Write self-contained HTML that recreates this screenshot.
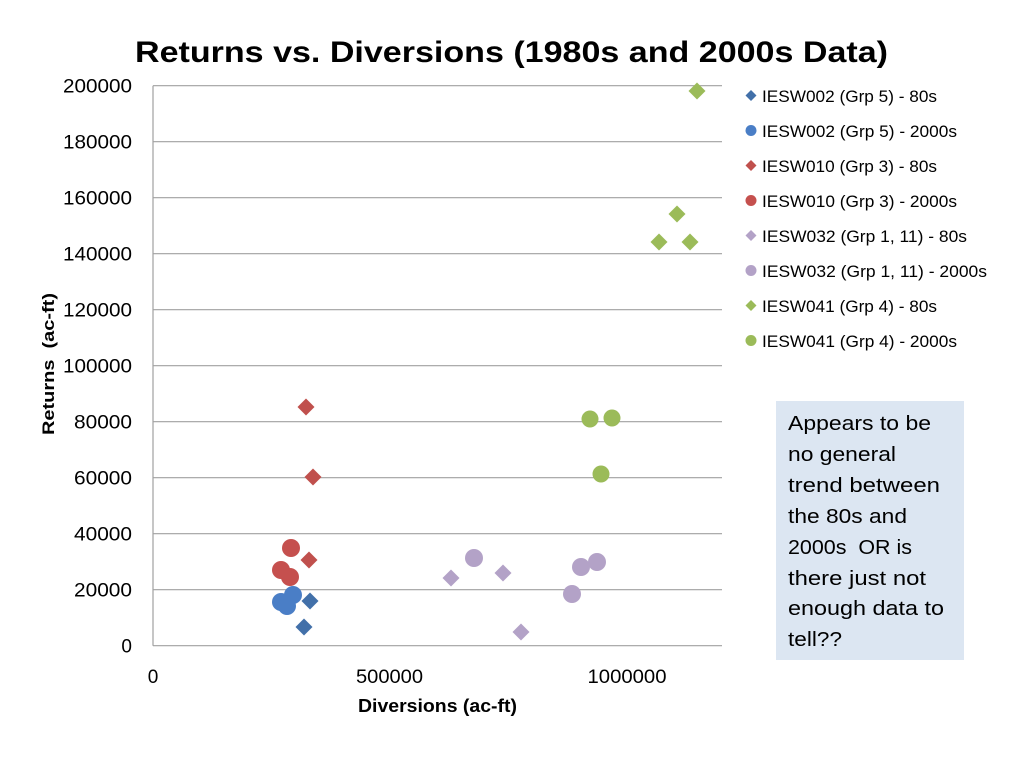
<!DOCTYPE html>
<html>
<head>
<meta charset="utf-8">
<style>
html,body{margin:0;padding:0;background:#fff;}
svg{display:block;}
text{font-family:"Liberation Sans",sans-serif;fill:#000;}
</style>
</head>
<body>
<svg width="1024" height="768" viewBox="0 0 1024 768" xmlns="http://www.w3.org/2000/svg">
<rect width="1024" height="768" fill="#fff"/>
<!-- title -->
<text x="135" y="62" font-size="30" font-weight="bold" textLength="753" lengthAdjust="spacingAndGlyphs">Returns vs. Diversions (1980s and 2000s Data)</text>

<!-- gridlines -->
<g stroke="#a0a0a0" stroke-width="1.2">
<line x1="153" y1="85.7" x2="722" y2="85.7"/>
<line x1="153" y1="141.7" x2="722" y2="141.7"/>
<line x1="153" y1="197.7" x2="722" y2="197.7"/>
<line x1="153" y1="253.7" x2="722" y2="253.7"/>
<line x1="153" y1="309.7" x2="722" y2="309.7"/>
<line x1="153" y1="365.7" x2="722" y2="365.7"/>
<line x1="153" y1="421.7" x2="722" y2="421.7"/>
<line x1="153" y1="477.7" x2="722" y2="477.7"/>
<line x1="153" y1="533.7" x2="722" y2="533.7"/>
<line x1="153" y1="589.7" x2="722" y2="589.7"/>
<line x1="153" y1="645.7" x2="722" y2="645.7"/>
<line x1="153" y1="85.7" x2="153" y2="645.7"/>
</g>

<!-- y tick labels -->
<g font-size="19" text-anchor="end">
<text x="132" y="92.5" textLength="69" lengthAdjust="spacingAndGlyphs">200000</text>
<text x="132" y="148.5" textLength="69" lengthAdjust="spacingAndGlyphs">180000</text>
<text x="132" y="204.5" textLength="69" lengthAdjust="spacingAndGlyphs">160000</text>
<text x="132" y="260.5" textLength="69" lengthAdjust="spacingAndGlyphs">140000</text>
<text x="132" y="316.5" textLength="69" lengthAdjust="spacingAndGlyphs">120000</text>
<text x="132" y="372.5" textLength="69" lengthAdjust="spacingAndGlyphs">100000</text>
<text x="132" y="428.5" textLength="58" lengthAdjust="spacingAndGlyphs">80000</text>
<text x="132" y="484.5" textLength="58" lengthAdjust="spacingAndGlyphs">60000</text>
<text x="132" y="540.5" textLength="58" lengthAdjust="spacingAndGlyphs">40000</text>
<text x="132" y="596.5" textLength="58" lengthAdjust="spacingAndGlyphs">20000</text>
<text x="132" y="652.5">0</text>
</g>

<!-- x tick labels -->
<g font-size="19" text-anchor="middle">
<text x="153" y="683">0</text>
<text x="389.5" y="683" textLength="67" lengthAdjust="spacingAndGlyphs">500000</text>
<text x="627" y="683" textLength="79" lengthAdjust="spacingAndGlyphs">1000000</text>
</g>

<!-- axis titles -->
<text x="358" y="712" font-size="18" font-weight="bold" textLength="159" lengthAdjust="spacingAndGlyphs">Diversions (ac-ft)</text>
<text transform="translate(54,435) rotate(-90)" x="0" y="0" font-size="17" font-weight="bold" textLength="142" lengthAdjust="spacingAndGlyphs" xml:space="preserve">Returns  (ac-ft)</text>

<!-- data -->
<defs>
<path id="dm" d="M0,-8.5 L8.5,0 L0,8.5 L-8.5,0 Z"/>
<path id="dl" d="M0,-5.5 L5.5,0 L0,5.5 L-5.5,0 Z"/>
</defs>
<!-- IESW002 80s -->
<g fill="#4270a9">
<use href="#dm" x="304" y="627"/>
<use href="#dm" x="310" y="601"/>
</g>
<!-- IESW002 2000s -->
<g fill="#4a7ec6">
<circle cx="281" cy="602" r="9"/>
<circle cx="287" cy="606" r="9"/>
<circle cx="293" cy="595" r="9"/>
</g>
<!-- IESW010 80s -->
<g fill="#c0504d">
<use href="#dm" x="306" y="407"/>
<use href="#dm" x="313" y="477"/>
<use href="#dm" x="309" y="560"/>
</g>
<!-- IESW010 2000s -->
<g fill="#c5504e">
<circle cx="291" cy="548" r="9"/>
<circle cx="281" cy="570" r="9"/>
<circle cx="290" cy="577" r="9"/>
</g>
<!-- IESW032 80s -->
<g fill="#b3a2c7">
<use href="#dm" x="451" y="578"/>
<use href="#dm" x="503" y="573"/>
<use href="#dm" x="521" y="632"/>
</g>
<!-- IESW032 2000s -->
<g fill="#b3a2c7">
<circle cx="474" cy="558" r="9"/>
<circle cx="572" cy="594" r="9"/>
<circle cx="581" cy="567" r="9"/>
<circle cx="597" cy="562" r="9"/>
</g>
<!-- IESW041 80s -->
<g fill="#9bbb59">
<use href="#dm" x="697" y="91"/>
<use href="#dm" x="677" y="214"/>
<use href="#dm" x="659" y="242"/>
<use href="#dm" x="690" y="242"/>
</g>
<!-- IESW041 2000s -->
<g fill="#9bbb59">
<circle cx="590" cy="419" r="8.5"/>
<circle cx="612" cy="418" r="8.5"/>
<circle cx="601" cy="474" r="8.5"/>
</g>

<!-- legend -->
<use href="#dl" x="751" y="95.5" fill="#4270a9"/>
<circle cx="751" cy="130.5" r="5.5" fill="#4a7ec6"/>
<use href="#dl" x="751" y="165.5" fill="#c0504d"/>
<circle cx="751" cy="200.5" r="5.5" fill="#c5504e"/>
<use href="#dl" x="751" y="235.5" fill="#b3a2c7"/>
<circle cx="751" cy="270.5" r="5.5" fill="#b3a2c7"/>
<use href="#dl" x="751" y="305.5" fill="#9bbb59"/>
<circle cx="751" cy="340.5" r="5.5" fill="#9bbb59"/>
<g font-size="17">
<text x="762" y="102" textLength="175" lengthAdjust="spacingAndGlyphs">IESW002 (Grp 5) - 80s</text>
<text x="762" y="137" textLength="195" lengthAdjust="spacingAndGlyphs">IESW002 (Grp 5) - 2000s</text>
<text x="762" y="172" textLength="175" lengthAdjust="spacingAndGlyphs">IESW010 (Grp 3) - 80s</text>
<text x="762" y="207" textLength="195" lengthAdjust="spacingAndGlyphs">IESW010 (Grp 3) - 2000s</text>
<text x="762" y="242" textLength="205" lengthAdjust="spacingAndGlyphs">IESW032 (Grp 1, 11) - 80s</text>
<text x="762" y="277" textLength="225" lengthAdjust="spacingAndGlyphs">IESW032 (Grp 1, 11) - 2000s</text>
<text x="762" y="312" textLength="175" lengthAdjust="spacingAndGlyphs">IESW041 (Grp 4) - 80s</text>
<text x="762" y="347" textLength="195" lengthAdjust="spacingAndGlyphs">IESW041 (Grp 4) - 2000s</text>
</g>

<!-- note box -->
<rect x="776" y="401" width="188" height="259" fill="#dce6f2"/>
<g font-size="20">
<text x="788" y="430" textLength="143" lengthAdjust="spacingAndGlyphs">Appears to be</text>
<text x="788" y="461" textLength="108" lengthAdjust="spacingAndGlyphs">no general</text>
<text x="788" y="492" textLength="152" lengthAdjust="spacingAndGlyphs">trend between</text>
<text x="788" y="523" textLength="119" lengthAdjust="spacingAndGlyphs">the 80s and</text>
<text x="788" y="554" textLength="124" lengthAdjust="spacingAndGlyphs" xml:space="preserve">2000s  OR is</text>
<text x="788" y="585" textLength="138" lengthAdjust="spacingAndGlyphs">there just not</text>
<text x="788" y="615" textLength="156" lengthAdjust="spacingAndGlyphs">enough data to</text>
<text x="788" y="646" textLength="54" lengthAdjust="spacingAndGlyphs">tell??</text>
</g>
</svg>
</body>
</html>
